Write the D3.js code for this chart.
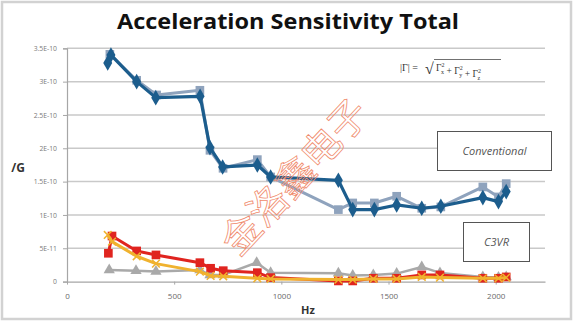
<!DOCTYPE html>
<html><head><meta charset="utf-8">
<script src="https://cdn.jsdelivr.net/npm/d3@7"></script>
<style>html,body{margin:0;padding:0;background:#fff;}svg{display:block;}</style>
</head><body>
<svg id="chart" width="575" height="324"></svg>
<script>
// ---- data ----
const title = "Acceleration Sensitivity Total";
const xLabel = "Hz";
const yLabel = "/G";
const xTicks = [0, 500, 1000, 1500, 2000];
const xTickLabels = ["0", "500", "1000", "1500", "2000"];
const yTicks = [0, 5e-11, 1e-10, 1.5e-10, 2e-10, 2.5e-10, 3e-10, 3.5e-10];
const yTickLabels = ["0", "5E-11", "1E-10", "1.5E-10", "2E-10", "2.5E-10", "3E-10", "3.5E-10"];

const convDarkHz  = [190, 205, 325, 414, 621, 667, 726, 888, 950, 1266, 1333, 1434, 1538, 1655, 1744, 1940, 2013, 2049];
const convDarkVal = [3.28e-10, 3.40e-10, 3.00e-10, 2.76e-10, 2.78e-10, 2.01e-10, 1.72e-10, 1.75e-10, 1.57e-10, 1.52e-10, 1.08e-10, 1.08e-10, 1.15e-10, 1.10e-10, 1.13e-10, 1.26e-10, 1.20e-10, 1.35e-10];

const convLightHz  = [200, 325, 418, 620, 667, 728, 888, 950, 1266, 1333, 1434, 1538, 1655, 1744, 1940, 2013, 2049];
const convLightVal = [3.41e-10, 3.02e-10, 2.80e-10, 2.87e-10, 1.97e-10, 1.70e-10, 1.83e-10, 1.57e-10, 1.08e-10, 1.18e-10, 1.18e-10, 1.28e-10, 1.10e-10, 1.12e-10, 1.42e-10, 1.27e-10, 1.47e-10];

const c3GrayHz  = [197, 322, 415, 620, 667, 729, 885, 950, 1266, 1333, 1429, 1538, 1655, 1740, 1940, 2013, 2049];
const c3GrayVal = [1.74e-11, 1.64e-11, 1.5e-11, 1.74e-11, 1.0e-11, 1.0e-11, 2.84e-11, 1.34e-11, 1.25e-11, 0.9e-11, 1.0e-11, 1.2e-11, 2.2e-11, 1.3e-11, 0.7e-11, 0.6e-11, 0.7e-11];

const c3RedHz  = [193, 210, 325, 415, 620, 670, 729, 888, 950, 1266, 1333, 1429, 1538, 1655, 1740, 1940, 2013, 2049];
const c3RedVal = [4.25e-11, 6.84e-11, 4.6e-11, 4.0e-11, 2.84e-11, 2.0e-11, 1.64e-11, 1.34e-11, 0.6e-11, 0.1e-11, 0.1e-11, 0.5e-11, 0.5e-11, 1.0e-11, 1.0e-11, 0.5e-11, 0.5e-11, 0.7e-11];

const c3OrangeHz  = [190, 210, 325, 415, 620, 670, 729, 888, 950, 1266, 1333, 1429, 1538, 1655, 1740, 1940, 2013, 2049];
const c3OrangeVal = [7.0e-11, 6.0e-11, 3.8e-11, 2.7e-11, 1.5e-11, 0.85e-11, 0.8e-11, 0.5e-11, 0.4e-11, 0.3e-11, 0.3e-11, 0.4e-11, 0.4e-11, 0.7e-11, 0.6e-11, 0.5e-11, 0.5e-11, 0.6e-11];

const legendConventional = "Conventional";
const legendC3VR = "C3VR";
const watermark = "金洛鑫电子";

// ---- drawing ----
const svg = d3.select("#chart");
const x = d3.scaleLinear().domain([0, 2230]).range([67, 545]);
const y = d3.scaleLinear().domain([0, 3.5e-10]).range([281.6, 48.3]);

const zip = (a, b) => a.map((v, i) => ({ hz: v, val: b[i] }));

// outer frame
svg.append("rect").attr("x", 2).attr("y", 2).attr("width", 569).attr("height", 317)
  .attr("fill", "#fff").attr("stroke", "#d2d2d2").attr("stroke-width", 2.5);

// title
svg.append("text").attr("x", 288).attr("y", 29).attr("text-anchor", "middle")
  .attr("font-family", "Open Sans, sans-serif").attr("font-weight", 700).attr("font-size", 22)
  .attr("fill", "#111").attr("textLength", 342).attr("lengthAdjust", "spacingAndGlyphs")
  .text(title);

// gridlines
svg.append("g").selectAll("line").data(yTicks.slice(1)).join("line")
  .attr("x1", 67).attr("x2", 545)
  .attr("y1", d => y(d)).attr("y2", d => y(d))
  .attr("stroke", "#c9c9c9").attr("stroke-width", 1.5);

// y axis
const yAxis = d3.axisLeft(y).tickValues(yTicks).tickSize(4).tickPadding(6)
  .tickFormat((d, i) => yTickLabels[i]);
const gy = svg.append("g").attr("transform", "translate(67,0)").call(yAxis);
gy.select(".domain").attr("stroke", "#a6a6a6").attr("stroke-width", 1.2);
gy.selectAll(".tick line").attr("stroke", "#a6a6a6");
gy.selectAll(".tick text").attr("font-family", "Open Sans, sans-serif").attr("font-size", 6.8).attr("fill", "#7a7a7a");

// x axis
const xAxis = d3.axisBottom(x).tickValues(xTicks).tickSize(3).tickPadding(9).tickSizeOuter(0)
  .tickFormat((d, i) => xTickLabels[i]);
const gx = svg.append("g").attr("transform", "translate(0,281.6)").call(xAxis);
gx.select(".domain").attr("stroke", "#a6a6a6").attr("stroke-width", 1.2);
gx.selectAll(".tick line").attr("stroke", "#a6a6a6");
gx.selectAll(".tick text").attr("font-family", "Open Sans, sans-serif").attr("font-size", 8).attr("fill", "#6a6a6a");

// axis titles
svg.append("text").attr("x", 18).attr("y", 172).attr("text-anchor", "middle")
  .attr("font-family", "Open Sans, sans-serif").attr("font-weight", 700).attr("font-size", 12)
  .attr("fill", "#333").text(yLabel);
svg.append("text").attr("x", 308).attr("y", 314).attr("text-anchor", "middle")
  .attr("font-family", "Open Sans, sans-serif").attr("font-weight", 700).attr("font-size", 11)
  .attr("fill", "#333").text(xLabel);

// formula
const fg = svg.append("g").attr("font-family", "Liberation Serif, DejaVu Serif, serif").attr("fill", "#333");
fg.append("text").attr("x", 400).attr("y", 71).attr("font-size", 10).text("|Γ| = ");
fg.append("text").attr("x", 425).attr("y", 74).attr("font-size", 16).text("√");
const rad = fg.append("text").attr("x", 436).attr("y", 71).attr("font-size", 9.5);
[["x", ""], ["y", " + "], ["z", " + "]].forEach(([s, pre]) => {
  if (pre) rad.append("tspan").text(pre);
  rad.append("tspan").text("Γ");
  rad.append("tspan").attr("font-size", 6).attr("dy", -4).text("2");
  rad.append("tspan").attr("font-size", 6).attr("dx", -3.4).attr("dy", 7).text(s);
  rad.append("tspan").attr("dy", -3).text("");
});
fg.append("line").attr("x1", 434).attr("x2", 501).attr("y1", 59.5).attr("y2", 59.5)
  .attr("stroke", "#333").attr("stroke-width", 0.7);

// series
const line = d3.line().x(d => x(d.hz)).y(d => y(d.val));
function drawLine(data, color, w) {
  svg.append("path").datum(data).attr("d", line).attr("fill", "none")
    .attr("stroke", color).attr("stroke-width", w).attr("stroke-linejoin", "round");
}
function drawMarkers(data, color, type, size) {
  const sym = d3.symbol().type(type).size(size);
  svg.append("g").selectAll("path").data(data).join("path")
    .attr("transform", d => `translate(${x(d.hz)},${y(d.val)})`)
    .attr("d", sym).attr("fill", color);
}

const convLight = zip(convLightHz, convLightVal);
const convDark = zip(convDarkHz, convDarkVal);
const c3Gray = zip(c3GrayHz, c3GrayVal);
const c3Red = zip(c3RedHz, c3RedVal);
const c3Orange = zip(c3OrangeHz, c3OrangeVal);

drawLine(convLight, "#8fa3bd", 3);
drawMarkers(convLight, "#8fa3bd", d3.symbolSquare, 75);
drawLine(convDark, "#1c5d8d", 3.2);
drawMarkers(convDark, "#1c5d8d", d3.symbolDiamond, 70);

drawLine(c3Gray, "#a9a9a9", 2.5);
drawMarkers(c3Gray, "#a9a9a9", d3.symbolTriangle, 55);
drawLine(c3Red, "#e0241f", 3);
drawMarkers(c3Red, "#e0241f", d3.symbolSquare, 75);
drawLine(c3Orange, "#f0b22e", 3);
svg.append("g").selectAll("path").data(c3Orange).join("path")
  .attr("transform", d => `translate(${x(d.hz)},${y(d.val)})`)
  .attr("d", d3.symbol().type(d3.symbolTimes).size(40))
  .attr("fill", "none").attr("stroke", "#f0b22e").attr("stroke-width", 1.5);

// legend boxes
function legendBox(bx, by, bw, bh, label) {
  svg.append("rect").attr("x", bx).attr("y", by).attr("width", bw).attr("height", bh)
    .attr("fill", "#fff").attr("stroke", "#555").attr("stroke-width", 1);
  svg.append("text").attr("x", bx + bw / 2).attr("y", by + bh / 2 + 4).attr("text-anchor", "middle")
    .attr("font-family", "Open Sans, sans-serif").attr("font-style", "italic").attr("font-size", 11)
    .attr("fill", "#555").text(label);
}
legendBox(437.5, 131.5, 114, 39, legendConventional);
legendBox(463.5, 222.5, 66, 39, legendC3VR);

// watermark (single rotated run of hollow glyphs)
svg.append("text")
  .attr("transform", "translate(226,246) rotate(-47)")
  .attr("font-family", "Noto Sans CJK SC, Noto Sans CJK JP, sans-serif").attr("font-size", 39)
  .attr("fill", "none").attr("stroke", "#f08a6c").attr("stroke-width", 0.8)
  .attr("dominant-baseline", "central")
  .text(watermark);
</script>
</body></html>
